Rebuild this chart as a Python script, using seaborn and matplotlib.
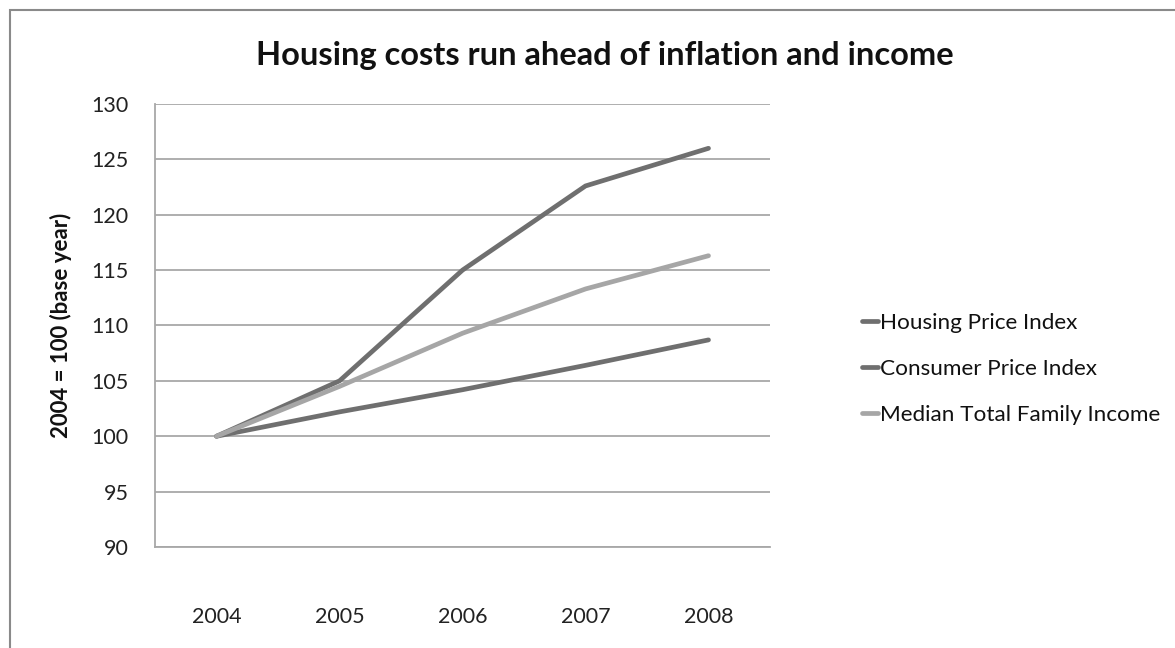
import matplotlib
matplotlib.use("Agg")
import matplotlib.pyplot as plt
import seaborn as sns
import pandas as pd
from matplotlib.patches import Rectangle

years = ["2004", "2005", "2006", "2007", "2008"]
housing = [100, 105.0, 115.0, 122.6, 126.0]
cpi = [100, 102.2, 104.2, 106.4, 108.7]
income = [100, 104.5, 109.3, 113.3, 116.3]
series_names = ["Housing Price Index", "Consumer Price Index", "Median Total Family Income"]
yticks = [90, 95, 100, 105, 110, 115, 120, 125, 130]

sns.set_theme(style="white")
plt.rcParams['font.family'] = ['Lato', 'DejaVu Sans']

rows = []
for name, vals in zip(series_names, [housing, cpi, income]):
    for i, (y, v) in enumerate(zip(years, vals)):
        rows.append({"x": i, "year": y, "value": v, "series": name})
df = pd.DataFrame(rows)

fig = plt.figure(figsize=(11.75, 6.48), dpi=100)
ax = fig.add_axes([155/1175, 1-547/648, (770-155)/1175, (547-104)/648])

palette = {series_names[0]: "#6f6f6f", series_names[1]: "#6f6f6f", series_names[2]: "#a6a6a6"}
sns.lineplot(data=df, x="x", y="value", hue="series", hue_order=series_names,
             palette=palette, linewidth=3.4, ax=ax, legend=True, sort=False)

ax.set_xlim(-0.5, 4.5)
ax.set_ylim(90, 130)
ax.set_yticks(yticks)
ax.set_yticklabels([str(t) for t in yticks], fontsize=15.5, color="#222222")
ax.set_xticks(range(len(years)))
ax.set_xticklabels(years, fontsize=15.5, color="#222222")
ax.tick_params(axis="y", length=0, pad=19)
ax.tick_params(axis="x", length=0, pad=43)
ax.grid(axis="y", color="#a8a8a8", linewidth=1.3)
ax.set_axisbelow(True)
for s in ["top", "right"]:
    ax.spines[s].set_visible(False)
for s in ["left", "bottom"]:
    ax.spines[s].set_color("#a8a8a8")
    ax.spines[s].set_linewidth(1.3)
ax.set_xlabel("")
ax.set_ylabel("2004 = 100 (base year)", fontsize=16, fontweight="bold", color="#111111", labelpad=14)

fig.text(605/1175, 1-55/648, "Housing costs run ahead of inflation and income",
         ha="center", va="center", fontsize=23.5, fontweight="bold", color="#111111")

handles, labels = ax.get_legend_handles_labels()
leg = ax.legend(handles, labels, loc="center left", bbox_to_anchor=(842/1175, 1-369/648),
                bbox_transform=fig.transFigure, frameon=False, fontsize=16.2,
                handlelength=0.7, handletextpad=0.1, labelspacing=1.15)
for t in leg.get_texts():
    t.set_color("#111111")

fig.patches.append(Rectangle((10/1175, -0.1), 1.2, 1-10/648 + 0.1, transform=fig.transFigure,
                             fill=False, edgecolor="#8a8a8a", linewidth=1.5))

fig.savefig("out.png", dpi=100, facecolor="white")
